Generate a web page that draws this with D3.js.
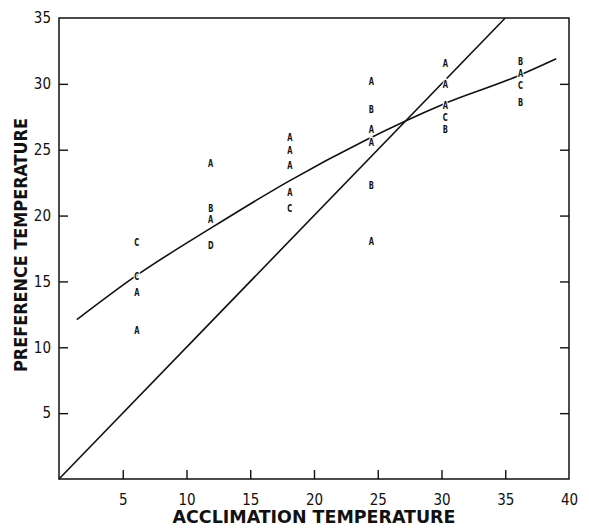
<!DOCTYPE html>
<html>
<head>
<meta charset="utf-8">
<script src="https://cdn.jsdelivr.net/npm/d3@7"></script>
<style>
  body { margin: 0; background: #fff; }
  svg { display: block; }
  .tick text { font-family: "DejaVu Sans Condensed", "Liberation Sans Narrow", sans-serif; font-size: 15px; fill: #111; }
  .tick line { stroke: #111; stroke-width: 1.4; }
</style>
</head>
<body>
<div id="chartDiv"></div>
<script>
// preference vs acclimation temperature

// letter codes at each acclimation temperature
var acclimX = [6.1, 11.9, 18.1, 24.5, 30.3, 36.2];
var letters = [
  ['C', 'C', 'A', 'A'],
  ['A', 'B', 'A', 'D'],
  ['A', 'A', 'A', 'A', 'C'],
  ['A', 'B', 'A', 'A', 'B', 'A'],
  ['A', 'A', 'A', 'C', 'B'],
  ['B', 'A', 'C', 'B']
];
var prefY = [
  [18.0, 15.4, 14.2, 11.3],
  [24.0, 20.6, 19.7, 17.8],
  [26.0, 25.0, 23.8, 21.8, 20.6],
  [30.2, 28.1, 26.6, 25.6, 22.3, 18.1],
  [31.6, 30.0, 28.4, 27.5, 26.6],
  [31.7, 30.8, 29.9, 28.6]
];

// fitted curve
var curveX = [1.4, 6, 12, 18, 24, 30, 36, 39];
var curveY = [12.1, 15.4, 19.1, 22.6, 25.7, 28.4, 30.6, 31.9];

// line of equality
var diagX = [0, 35];
var diagY = [0, 35];

var xTicks = [5, 10, 15, 20, 25, 30, 35, 40];
var yTicks = [5, 10, 15, 20, 25, 30, 35];

var chartWidth = 589;
var chartHeight = 528;

var svg = d3.select('#chartDiv')
            .append('svg')
            .attr('width', chartWidth)
            .attr('height', chartHeight)
            .style('background', '#fff');

var x = d3.scaleLinear().domain([0, 40]).range([59, 569]);
var y = d3.scaleLinear().domain([0, 35]).range([479, 18]);

// axes, ticks pointing inward
svg.append('g')
   .attr('transform', 'translate(0,' + y(0) + ')')
   .call(d3.axisBottom(x).tickValues(xTicks).tickSize(-9).tickPadding(15))
   .call(function(g) {
     g.select('.domain').remove();
     g.selectAll('.tick').filter(function(d) { return d === 40; }).select('line').remove();
   });

svg.append('g')
   .attr('transform', 'translate(' + x(0) + ',0)')
   .call(d3.axisLeft(y).tickValues(yTicks).tickSize(-9).tickPadding(8))
   .call(function(g) {
     g.select('.domain').remove();
     g.selectAll('.tick').filter(function(d) { return d === 35; }).select('line').remove();
   });

svg.append('g')
   .attr('transform', 'translate(' + x(40) + ',0)')
   .call(d3.axisRight(y).tickValues(yTicks.slice(0, 6)).tickSize(-9).tickFormat(''))
   .call(function(g) { g.select('.domain').remove(); });

// frame
svg.append('rect')
   .attr('x', x(0))
   .attr('y', y(35))
   .attr('width', x(40) - x(0))
   .attr('height', y(0) - y(35))
   .attr('fill', 'none')
   .attr('stroke', '#111')
   .attr('stroke-width', 1.5);

// lines
var line = d3.line()
             .x(function(d) { return x(d[0]); })
             .y(function(d) { return y(d[1]); });

svg.append('path')
   .datum(diagX.map(function(v, i) { return [v, diagY[i]]; }))
   .attr('d', line)
   .attr('fill', 'none')
   .attr('stroke', '#111')
   .attr('stroke-width', 1.6);

svg.append('path')
   .datum(curveX.map(function(v, i) { return [v, curveY[i]]; }))
   .attr('d', line.curve(d3.curveMonotoneX))
   .attr('fill', 'none')
   .attr('stroke', '#111')
   .attr('stroke-width', 1.6);

// letters, white halo breaks the lines like the original
var pts = [];
acclimX.forEach(function(ax, i) {
  letters[i].forEach(function(l, j) {
    pts.push({ x: ax, y: prefY[i][j], label: l });
  });
});

svg.selectAll('text.pt')
   .data(pts)
   .enter()
   .append('text')
   .attr('class', 'pt')
   .attr('transform', function(d) { return 'translate(' + x(d.x) + ',' + y(d.y) + ') scale(0.75,1.1)'; })
   .attr('text-anchor', 'middle')
   .attr('dy', '0.36em')
   .attr('font-family', '"DejaVu Sans Condensed", sans-serif')
   .attr('font-weight', 'bold')
   .attr('font-size', '10px')
   .attr('fill', '#111')
   .attr('stroke', '#fff')
   .attr('stroke-width', 2.5)
   .attr('paint-order', 'stroke')
   .text(function(d) { return d.label; });

// axis titles
svg.append('text')
   .attr('x', 314)
   .attr('y', 523)
   .attr('text-anchor', 'middle')
   .attr('font-family', '"DejaVu Sans Condensed", sans-serif')
   .attr('font-weight', 'bold')
   .attr('font-size', '17px')
   .attr('textLength', 283)
   .attr('lengthAdjust', 'spacingAndGlyphs')
   .attr('fill', '#111')
   .text('ACCLIMATION  TEMPERATURE');

svg.append('text')
   .attr('transform', 'translate(27,245) rotate(-90)')
   .attr('text-anchor', 'middle')
   .attr('font-family', '"DejaVu Sans Condensed", sans-serif')
   .attr('font-weight', 'bold')
   .attr('font-size', '18px')
   .attr('textLength', 254)
   .attr('lengthAdjust', 'spacingAndGlyphs')
   .attr('fill', '#111')
   .text('PREFERENCE  TEMPERATURE');
</script>
</body>
</html>
